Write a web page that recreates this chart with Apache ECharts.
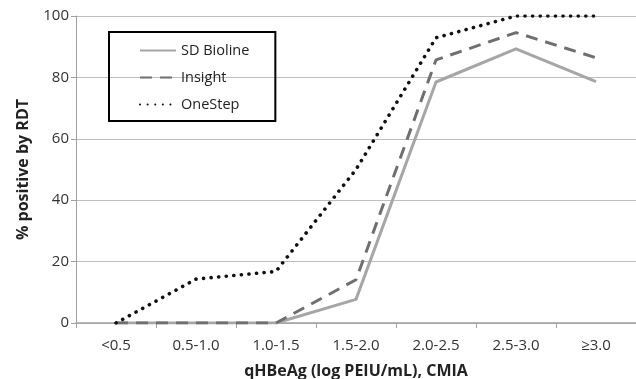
<!DOCTYPE html>
<html>
<head>
<meta charset="utf-8">
<script src="https://cdn.jsdelivr.net/npm/echarts@6/dist/echarts.min.js"></script>
<style>
html,body{margin:0;padding:0;background:#fff;}
#chart{width:636px;height:379px;}
</style>
</head>
<body>
<div id="chart"></div>
<script>
const categories = ['<0.5', '0.5-1.0', '1.0-1.5', '1.5-2.0', '2.0-2.5', '2.5-3.0', '≥3.0'];
const sdBioline = [0, 0, 0, 7.7, 78.5, 89.3, 78.6];
const insight = [0, 0, 0, 14.1, 85.7, 94.6, 86.4];
const oneStep = [0, 14.3, 16.8, 50, 92.9, 100, 100];
const yTicks = [0, 20, 40, 60, 80, 100];

const font = '"Open Sans", "Noto Sans", sans-serif';
const chart = echarts.init(document.getElementById('chart'));

const option = {
  animation: false,
  grid: {left: 76, right: 0, top: 16, bottom: 56, outerBoundsMode: 'none'},
  legend: {
    orient: 'vertical',
    left: 109,
    top: 32,
    data: ['SD Bioline', 'Insight', 'OneStep'],
    borderColor: '#000',
    borderWidth: 2,
    padding: [11, 26, 9, 30],
    itemWidth: 36,
    itemHeight: 14,
    itemGap: 12,
    itemStyle: {opacity: 0},
    textStyle: {fontFamily: font, fontSize: 14.5, color: '#222'}
  },
  xAxis: {
    type: 'category',
    data: categories,
    boundaryGap: true,
    name: 'qHBeAg (log PEIU/mL), CMIA',
    nameLocation: 'middle',
    nameGap: 40,
    nameTextStyle: {fontFamily: font, fontSize: 16, fontWeight: 'bold', color: '#222'},
    axisLine: {lineStyle: {color: '#a0a0a0', width: 1.5}},
    axisTick: {show: true, length: 5, lineStyle: {color: '#a0a0a0'}},
    axisLabel: {fontFamily: font, fontSize: 15, color: '#333', margin: 15}
  },
  yAxis: {
    type: 'value',
    min: 0,
    max: 100,
    interval: 20,
    name: '% positive by RDT',
    nameLocation: 'middle',
    nameGap: 45,
    nameTextStyle: {fontFamily: font, fontSize: 16, fontWeight: 'bold', color: '#222'},
    axisLine: {show: true, lineStyle: {color: '#a0a0a0'}},
    axisTick: {show: true, length: 5, lineStyle: {color: '#a0a0a0'}},
    axisLabel: {fontFamily: font, fontSize: 15, color: '#333', margin: 7,
      formatter: v => yTicks.includes(v) ? String(v) : ''},
    splitLine: {lineStyle: {color: '#bdbdbd', width: 1.2}}
  },
  series: [
    {
      name: 'SD Bioline',
      type: 'line',
      data: sdBioline,
      symbol: 'none',
      itemStyle: {color: '#a6a6a6'},
      lineStyle: {color: '#a6a6a6', width: 3}
    },
    {
      name: 'Insight',
      type: 'line',
      data: insight,
      symbol: 'none',
      itemStyle: {color: '#6f6f6f'},
      lineStyle: {color: '#6f6f6f', width: 3, type: [12, 8]}
    },
    {
      name: 'OneStep',
      type: 'line',
      data: oneStep,
      symbol: 'none',
      itemStyle: {color: '#111'},
      lineStyle: {color: '#111', width: 3.6, type: [0.1, 7.5], cap: 'round'}
    }
  ]
};

chart.setOption(option);
</script>
</body>
</html>
